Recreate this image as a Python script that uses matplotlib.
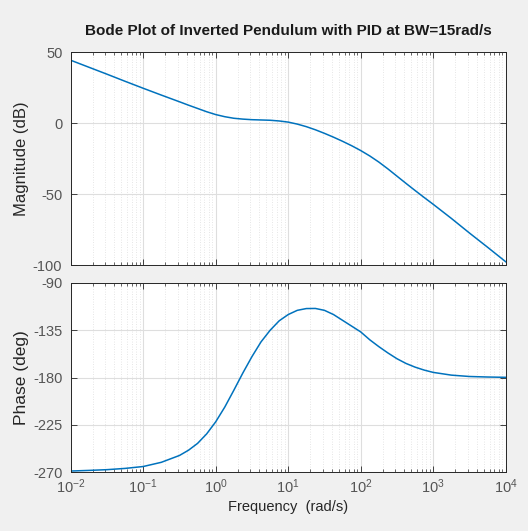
import matplotlib
matplotlib.use("Agg")
import matplotlib.pyplot as plt
from matplotlib.ticker import LogLocator, NullFormatter, FixedLocator, LogFormatterSciNotation

plt.rcParams["axes.unicode_minus"] = False

# Frequencies (rad/s) at which values were read, as log10 exponents
log_w = [-2.0, -1.75, -1.5, -1.25, -1.0, -0.75, -0.5, -0.375, -0.25, -0.125, 0.0,
         0.125, 0.25, 0.375, 0.5, 0.625, 0.75, 0.875, 1.0, 1.125, 1.25, 1.375, 1.5,
         1.625, 1.75, 1.875, 2.0, 2.125, 2.25, 2.375, 2.5, 2.625, 2.75, 2.875, 3.0,
         3.25, 3.5, 3.75, 4.0]
freq = [10 ** e for e in log_w]

mag_db = [44.2, 39.3, 34.4, 29.4, 24.5, 19.7, 15.0, 12.6, 10.3, 8.0, 6.0,
          4.5, 3.4, 2.8, 2.4, 2.2, 2.0, 1.5, 0.7, -0.7, -2.5, -4.7, -7.2,
          -9.9, -12.8, -15.9, -19.3, -23.1, -27.4, -32.2, -37.3, -42.4, -47.4, -52.3, -57.1,
          -67.0, -77.3, -87.3, -97.5]

phase_deg = [-268.8, -268.2, -267.5, -266.3, -264.5, -260.5, -254.0, -249.0, -242.5, -233.5, -222.0,
             -208.0, -192.0, -175.5, -160.0, -146.0, -135.0, -126.0, -120.0, -116.0, -114.3, -114.2, -116.0,
             -120.0, -125.5, -131.0, -136.5, -144.0, -150.5, -156.5, -162.0, -166.5, -170.0, -172.8, -175.0,
             -177.6, -178.9, -179.4, -179.7]

title = "Bode Plot of Inverted Pendulum with PID at BW=15rad/s"
freq_ticks = [1e-2, 1e-1, 1e0, 1e1, 1e2, 1e3, 1e4]
mag_ticks = [-100, -50, 0, 50]
phase_ticks = [-270, -225, -180, -135, -90]

W, H = 528, 531
fig = plt.figure(figsize=(W / 100, H / 100), dpi=100, facecolor="#f0f0f0")

def box(x0, y0, x1, y1):
    return [x0 / W, 1 - y1 / H, (x1 - x0) / W, (y1 - y0) / H]

ax1 = fig.add_axes(box(70.7, 52, 505.7, 265.3))
ax2 = fig.add_axes(box(70.7, 283, 505.7, 472.3))

line_color = "#0072BD"
tick_color = "#555555"
font = ["Liberation Sans", "DejaVu Sans"]

for ax in (ax1, ax2):
    ax.set_xscale("log")
    ax.set_xlim(1e-2, 1e4)
    ax.set_facecolor("white")
    ax.xaxis.set_major_locator(FixedLocator(freq_ticks))
    ax.xaxis.set_major_formatter(LogFormatterSciNotation())
    ax.xaxis.set_minor_locator(LogLocator(base=10, subs=range(2, 10), numticks=100))
    ax.xaxis.set_minor_formatter(NullFormatter())
    ax.grid(True, which="major", color="#dedede", linewidth=0.8, linestyle="-")
    ax.grid(True, which="minor", axis="x", color="#dedede", linewidth=0.6, linestyle=(0, (1, 2)))
    ax.tick_params(which="both", direction="in", top=True, right=True,
                   colors="#262626", labelcolor=tick_color, labelsize=10.5)
    ax.tick_params(which="major", length=4, width=0.6)
    ax.tick_params(which="minor", length=2.5, width=0.5)
    ax.tick_params(axis="y", pad=6)
    for s in ax.spines.values():
        s.set_color("#262626")
        s.set_linewidth(0.7)
    ax.set_axisbelow(True)

ax1.plot(freq, mag_db, color=line_color, linewidth=1.1)
ax1.set_ylim(-100, 50)
ax1.yaxis.set_major_locator(FixedLocator(mag_ticks))
ax1.tick_params(axis="x", labelbottom=False)
ax1.set_ylabel("Magnitude (dB)", family=font, fontsize=12, color="#262626", labelpad=3)
ax1.set_title(title, family=["Liberation Sans Narrow", "Liberation Sans", "DejaVu Sans"],
              fontweight="bold", fontsize=11, color="#1a1a1a", pad=12)

ax2.plot(freq, phase_deg, color=line_color, linewidth=1.1)
ax2.set_ylim(-270, -90)
ax2.yaxis.set_major_locator(FixedLocator(phase_ticks))
ax2.set_ylabel("Phase (deg)", family=font, fontsize=12.5, color="#262626", labelpad=3)
ax2.set_xlabel("Frequency  (rad/s)", family=font, fontsize=10.5, color="#262626", labelpad=3)

for ax in (ax1, ax2):
    for lab in ax.get_xticklabels() + ax.get_yticklabels():
        lab.set_family(font)

fig.savefig("out.png", dpi=100, facecolor=fig.get_facecolor())
